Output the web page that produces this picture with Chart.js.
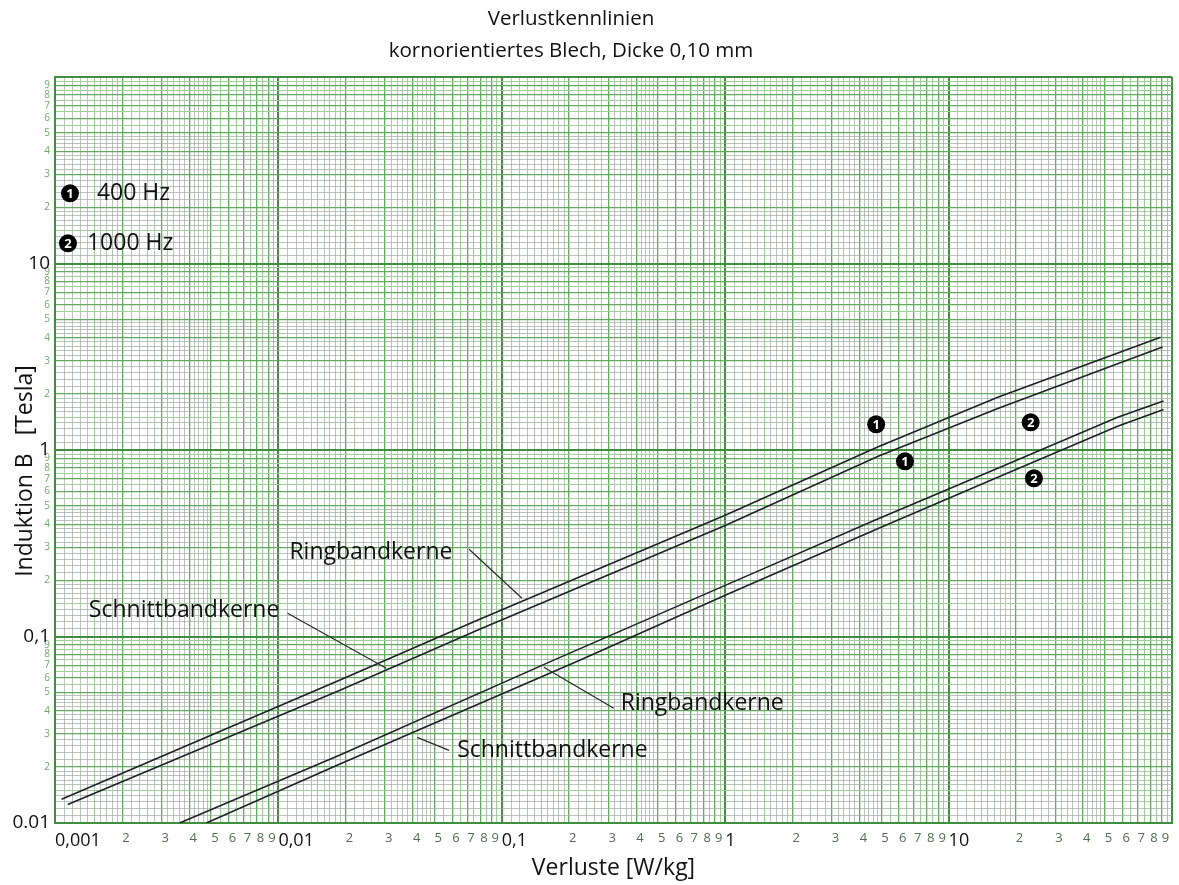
<!DOCTYPE html>
<html>
<head>
<meta charset="utf-8">
<script src="https://cdn.jsdelivr.net/npm/chart.js@4.4.1/dist/chart.umd.min.js"></script>
<style>
  html, body { margin: 0; padding: 0; background: #fff; }
</style>
</head>
<body>
<canvas id="chart" width="1179" height="885"></canvas>
<script>
const lossRing400 = [0.00107, 0.01875, 0.0791, 1.0, 4.84, 16.6, 88.9];
const bRing400 = [0.0134, 0.0582, 0.1233, 0.447, 1.04, 1.92, 4.02];

const lossCut400 = [0.00114, 0.01875, 0.0791, 1.0, 4.84, 16.6, 90.7];
const bCut400 = [0.01255, 0.0514, 0.1089, 0.394, 0.925, 1.667, 3.57];

const lossRing1000 = [0.00361, 0.01875, 0.177, 1.0, 4.84, 16.6, 57.1, 91.6];
const bRing1000 = [0.01, 0.0231, 0.0761, 0.188, 0.428, 0.798, 1.50, 1.83];

const lossCut1000 = [0.00476, 0.01875, 0.2233, 1.0, 4.84, 16.6, 57.1, 91.6];
const bCut1000 = [0.01, 0.02065, 0.0745, 0.1663, 0.379, 0.715, 1.34, 1.65];

// Achsenbeschriftungen
const xMajorValues = [0.001, 0.01, 0.1, 1, 10];
const xMajorLabels = ['0,001', '0,01', '0,1', '1', '10'];
const yMajorValues = [0.01, 0.1, 1, 10];
const yMajorLabels = ['0.01', '0,1', '1', '10'];

// Beschriftungen im Diagramm (Lage in Datenkoordinaten)
const noteTexts = ['Ringbandkerne', 'Schnittbandkerne', 'Ringbandkerne', 'Schnittbandkerne'];
const notePos = [[0.0112, 0.283], [0.0101, 0.138], [0.3406, 0.0438], [0.0631, 0.0245]];
const noteAlign = ['left', 'right', 'left', 'left'];
const noteLeaders = [
    [0.0714, 0.2937, 0.123, 0.1603],
    [0.01099, 0.1331, 0.0304, 0.0675],
    [0.317, 0.0412, 0.1543, 0.0684],
    [0.0581, 0.0245, 0.0418, 0.0288]
];
const markerPos = [[4.74, 1.373], [6.38, 0.870], [23.3, 1.408], [24.1, 0.705], [0.001167, 23.8], [0.001143, 12.83]];
const markerDigits = ['1', '1', '2', '2', '1', '2'];
const keyTexts = ['400 Hz', '1000 Hz'];
const keyPos = [[0.00154, 23.8], [0.00139, 12.83]];

const FONT = '"Open Sans", "Noto Sans", sans-serif';

// Gitterlinien wie auf Logarithmenpapier
function logGrid(from, to) {
    const vals = [];
    for (let e = from; e < to; e++) {
        const d = Math.pow(10, e);
        for (let m = 1; m < 2 - 1e-9; m += 0.1) vals.push(+(m * d).toPrecision(6));
        for (let m = 2; m < 5 - 1e-9; m += 0.2) vals.push(+(m * d).toPrecision(6));
        for (let m = 5; m < 10 - 1e-9; m += 0.5) vals.push(+(m * d).toPrecision(6));
    }
    vals.push(Math.pow(10, to));
    return vals;
}
const xGrid = logGrid(-3, 2);
const yGrid = logGrid(-2, 2);

function mantissa(v) {
    const e = Math.floor(Math.log10(v) + 1e-9);
    return Math.round(v / Math.pow(10, e) * 100) / 100;
}
function majorIndex(list, v) {
    return list.findIndex(t => Math.abs(t - v) / t < 1e-6);
}
function tickLabel(majors, labels) {
    return (v) => {
        const i = majorIndex(majors, v);
        if (i >= 0) return labels[i];
        const m = mantissa(v);
        return (Number.isInteger(m) && m > 1) ? String(m) : '';
    };
}
function gridColor(ctx) {
    const m = mantissa(ctx.tick.value);
    if (m === 1) return '#3f8f3f';
    if (Number.isInteger(m)) return '#63a95f';
    if (Math.round(m * 2) === m * 2) return '#9fcf99';
    return 'rgba(160,170,160,0.7)';
}
function gridWidth(ctx) {
    const m = mantissa(ctx.tick.value);
    if (m === 1) return 2;
    if (Number.isInteger(m)) return 1.3;
    return 1;
}

const series = [
    [lossRing400, bRing400],
    [lossCut400, bCut400],
    [lossRing1000, bRing1000],
    [lossCut1000, bCut1000]
];

const textPlugin = {
    id: 'texts',
    afterDatasetsDraw(chart) {
        const { ctx, scales: { x, y } } = chart;
        const px = v => x.getPixelForValue(v);
        const py = v => y.getPixelForValue(v);
        ctx.save();

        // Hinweislinien
        ctx.strokeStyle = '#2a2a2a';
        ctx.lineWidth = 1.2;
        noteLeaders.forEach(l => {
            ctx.beginPath();
            ctx.moveTo(px(l[0]), py(l[1]));
            ctx.lineTo(px(l[2]), py(l[3]));
            ctx.stroke();
        });

        ctx.fillStyle = '#111';
        ctx.textBaseline = 'middle';
        ctx.font = '23px ' + FONT;
        noteTexts.forEach((t, i) => {
            ctx.textAlign = noteAlign[i];
            ctx.fillText(t, px(notePos[i][0]), py(notePos[i][1]));
        });
        ctx.textAlign = 'left';
        keyTexts.forEach((t, i) => ctx.fillText(t, px(keyPos[i][0]), py(keyPos[i][1])));

        // schwarze Kreise mit Ziffer
        markerPos.forEach((p, i) => {
            const cx = px(p[0]), cy = py(p[1]);
            ctx.fillStyle = '#000';
            ctx.beginPath();
            ctx.arc(cx, cy, 9, 0, Math.PI * 2);
            ctx.fill();
            ctx.fillStyle = '#fff';
            ctx.textAlign = 'center';
            ctx.font = 'bold 13px ' + FONT;
            ctx.fillText(markerDigits[i], cx, cy + 1);
        });
        ctx.restore();
    },
    afterDraw(chart) {
        const { ctx, chartArea } = chart;
        ctx.save();
        ctx.fillStyle = '#111';
        ctx.textAlign = 'center';
        ctx.textBaseline = 'middle';
        ctx.font = '20.5px ' + FONT;
        ctx.fillText('Verlustkennlinien', 571, 19);
        ctx.fillText('kornorientiertes Blech, Dicke 0,10 mm', 571, 51);
        ctx.font = '23px ' + FONT;
        ctx.fillText('Verluste [W/kg]', (chartArea.left + chartArea.right) / 2, 868);
        ctx.translate(25, 471);
        ctx.rotate(-Math.PI / 2);
        ctx.fillText('Induktion B   [Tesla]', 0, 0);
        ctx.restore();
    }
};

new Chart(document.getElementById('chart'), {
    type: 'line',
    data: {
        datasets: series.map(s => ({
            data: s[0].map((v, i) => ({ x: v, y: s[1][i] })),
            borderColor: '#1f1f29',
            borderWidth: 1.6,
            pointRadius: 0,
            tension: 0,
            fill: false
        }))
    },
    options: {
        responsive: false,
        animation: false,
        layout: { padding: { top: 77, right: 7, left: 0, bottom: 0 } },
        plugins: {
            legend: { display: false },
            title: { display: false },
            tooltip: { enabled: false }
        },
        scales: {
            x: {
                type: 'logarithmic',
                min: 0.001,
                max: 100,
                afterBuildTicks: s => { s.ticks = xGrid.map(v => ({ value: v })); },
                afterFit: s => { s.height = 62; },
                grid: { color: gridColor, lineWidth: gridWidth, drawTicks: false },
                border: { color: '#3f8f3f', width: 2 },
                ticks: {
                    autoSkip: false,
                    maxRotation: 0,
                    align: 'start',
                    padding: 7,
                    callback: tickLabel(xMajorValues, xMajorLabels),
                    font: ctx => majorIndex(xMajorValues, ctx.tick.value) >= 0
                        ? { family: FONT, size: 18 } : { family: FONT, size: 13 },
                    color: ctx => majorIndex(xMajorValues, ctx.tick.value) >= 0 ? '#111' : '#4f6f4f'
                }
            },
            y: {
                type: 'logarithmic',
                min: 0.01,
                max: 100,
                afterBuildTicks: s => { s.ticks = yGrid.map(v => ({ value: v })); },
                afterFit: s => { s.width = 55; },
                grid: { color: gridColor, lineWidth: gridWidth, drawTicks: false },
                border: { color: '#3f8f3f', width: 2 },
                ticks: {
                    autoSkip: false,
                    padding: 5,
                    callback: tickLabel(yMajorValues, yMajorLabels),
                    font: ctx => majorIndex(yMajorValues, ctx.tick.value) >= 0
                        ? { family: FONT, size: 19 } : { family: FONT, size: 10 },
                    color: ctx => majorIndex(yMajorValues, ctx.tick.value) >= 0 ? '#111' : '#6aae66'
                }
            }
        }
    },
    plugins: [textPlugin]
});
</script>
</body>
</html>
